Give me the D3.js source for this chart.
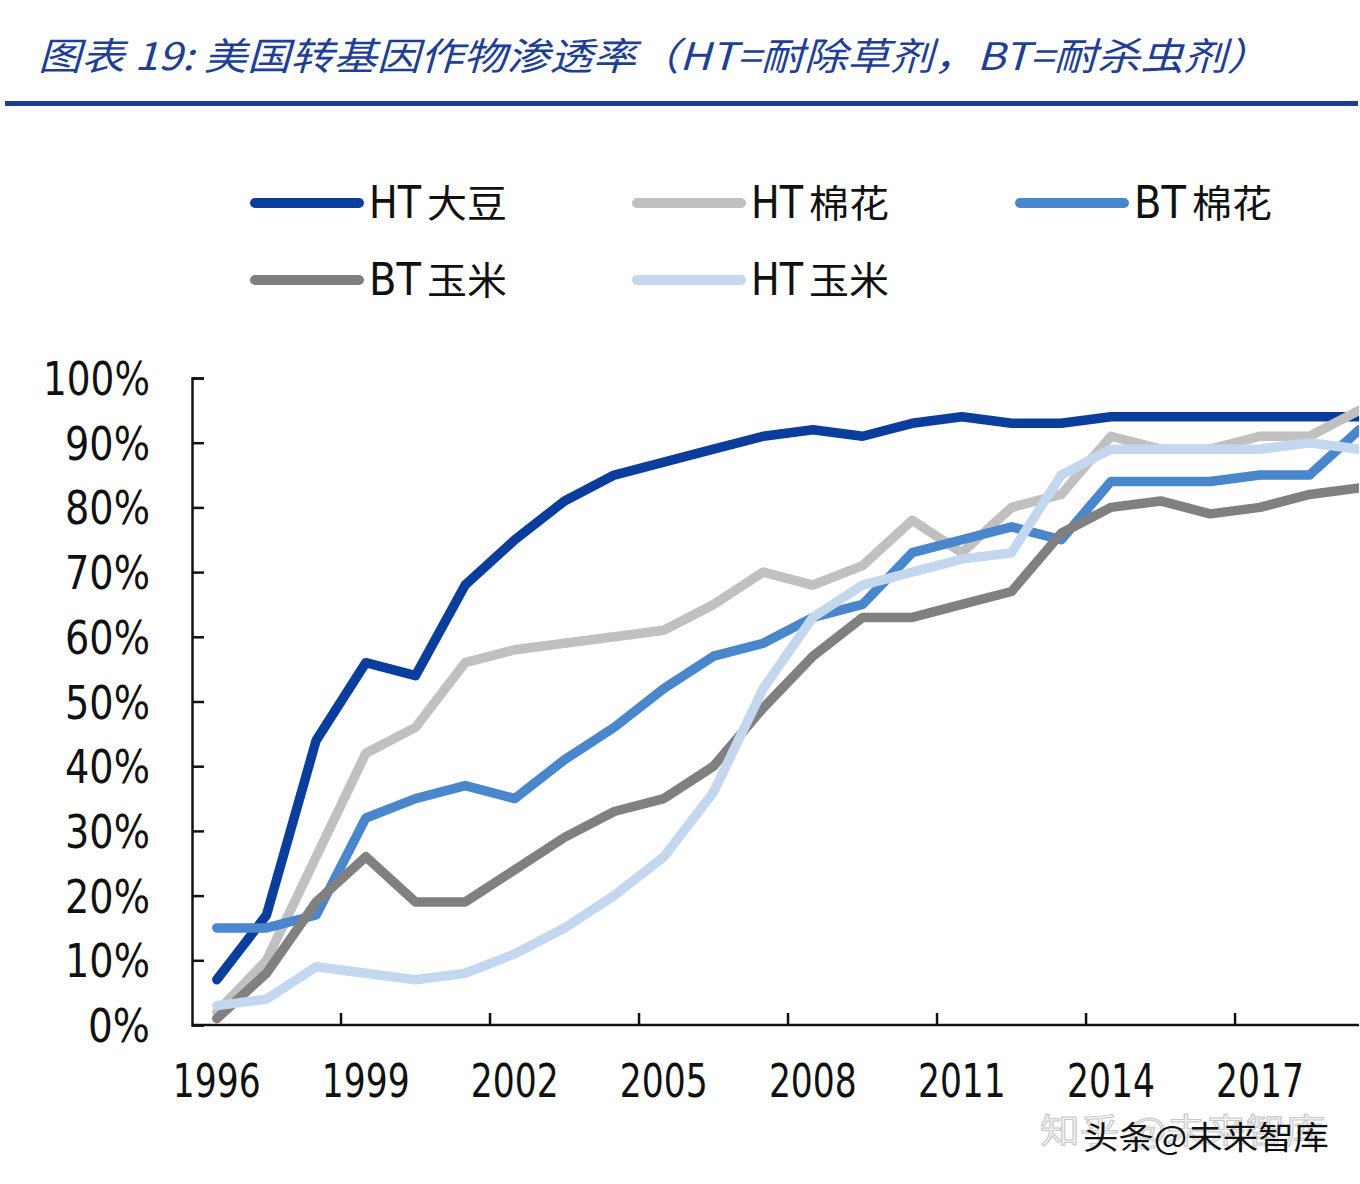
<!DOCTYPE html>
<html><head><meta charset="utf-8">
<script src="https://cdn.jsdelivr.net/npm/d3@7"></script>
<style>
html,body{margin:0;padding:0;background:#fff;}
svg{display:block;}
</style>
</head><body>
<svg id="c" width="1360" height="1184"></svg>
<script>
const years = ["1996","1997","1998","1999","2000","2001","2002","2003","2004","2005","2006","2007","2008","2009","2010","2011","2012","2013","2014","2015","2016","2017","2018","2019"];
const labelYears = ["1996","1999","2002","2005","2008","2011","2014","2017"];
const yTicks = [0,10,20,30,40,50,60,70,80,90,100];
const seriesNames = ["HT大豆","HT棉花","BT棉花","BT玉米","HT玉米"];
const htSoy    = [7,17,44,56,54,68,75,81,85,87,89,91,92,91,93,94,93,93,94,94,94,94,94,94];
const htCotton = [2,10,26,42,46,56,58,59,60,61,65,70,68,71,78,73,80,82,91,89,89,91,91,95];
const btCotton = [15,15,17,32,35,37,35,41,46,52,57,59,63,65,73,75,77,75,84,84,84,85,85,92];
const btCorn   = [1,8,19,26,19,19,24,29,33,35,40,49,57,63,63,65,67,76,80,81,79,80,82,83];
const htCorn   = [3,4,9,8,7,8,11,15,20,26,36,52,63,68,70,72,73,85,89,89,89,89,90,89];
const colors = ["#0b3d9c","#c0c0c0","#4a86cc","#808080","#c3d7ef"];
const seriesValues = [htSoy, htCotton, btCotton, btCorn, htCorn];

const svg = d3.select("#c");
const numFont = "'DejaVu Sans',sans-serif";
const cjkFont = "'Noto Sans CJK SC','Noto Sans',sans-serif";

// squeeze a text horizontally to a target width
function fitWidth(sel, w){
  sel.each(function(){
    const el = d3.select(this);
    const tw = typeof w === "function" ? w(this.textContent) : w;
    el.attr("textLength", tw).attr("lengthAdjust","spacingAndGlyphs");
  });
}

// Title
const title = svg.append("text").attr("x",38).attr("y",70)
  .attr("font-family",cjkFont).attr("font-style","italic").attr("font-size",38)
  .attr("fill","#1f3f95")
  .text("图表 19:  美国转基因作物渗透率（HT=耐除草剂，BT=耐杀虫剂）");
fitWidth(title, 1232);
svg.append("rect").attr("x",5).attr("y",101).attr("width",1353).attr("height",5).attr("fill","#1a3d9a");

// Scales
const bw = 49.67;
const x = d3.scaleBand().domain(years).range([192, 192 + bw*years.length]).padding(0);
const y = d3.scaleLinear().domain([0,100]).range([1025,378]);

svg.append("defs").append("clipPath").attr("id","clip")
  .append("rect").attr("x",0).attr("y",0).attr("width",1359).attr("height",1184);

// Y axis
const yAxis = d3.axisLeft(y).tickValues(yTicks).tickSize(-12).tickPadding(42).tickFormat(d=>d+"%");
const gy = svg.append("g").attr("transform","translate(192,0)").call(yAxis);
gy.select(".domain").attr("stroke","#111").attr("stroke-width",2.5);
gy.selectAll(".tick line").attr("stroke","#111").attr("stroke-width",2.5);
const ytxt = gy.selectAll(".tick text").attr("font-family",numFont).attr("font-size",46)
  .attr("fill","#111").attr("dy","0.36em");
fitWidth(ytxt, s => s.length===4 ? 107 : s.length===3 ? 85 : 62);

// X axis line
const gx = svg.append("g").attr("clip-path","url(#clip)");
gx.append("line").attr("x1",192).attr("x2",1360).attr("y1",y(0)).attr("y2",y(0))
  .attr("stroke","#111").attr("stroke-width",2.5);
gx.selectAll("line.xt").data(labelYears.slice(1))
  .enter().append("line").attr("class","xt")
  .attr("x1",d=>x(d)).attr("x2",d=>x(d))
  .attr("y1",y(0)).attr("y2",y(0)-12)
  .attr("stroke","#111").attr("stroke-width",2.5);
const xtxt = svg.selectAll("text.xl").data(labelYears).enter().append("text").attr("class","xl")
  .attr("x",d=>x(d)+x.bandwidth()/2).attr("y",1097)
  .attr("text-anchor","middle").attr("font-family",numFont).attr("font-size",47).attr("fill","#111")
  .text(d=>d);
fitWidth(xtxt, 88);

// Lines
const line = d3.line().x((d,i)=>x(years[i])+x.bandwidth()/2).y(d=>y(d));
const lg = svg.append("g").attr("clip-path","url(#clip)");
seriesValues.forEach((vals,i)=>{
  lg.append("path").datum(vals).attr("d",line)
    .attr("fill","none").attr("stroke",colors[i]).attr("stroke-width",9.5)
    .attr("stroke-linejoin","round").attr("stroke-linecap","round");
});

// Legend
const legPos = [[255,203],[637,203],[1020,203],[255,280],[637,280]];
seriesNames.forEach((n,i)=>{
  const [lx,ly] = legPos[i];
  svg.append("line").attr("x1",lx).attr("x2",lx+104).attr("y1",ly).attr("y2",ly)
    .attr("stroke",colors[i]).attr("stroke-width",10).attr("stroke-linecap","round");
  const m = n.match(/^([A-Z]+)(.*)$/);
  const t1 = svg.append("text").attr("x",lx+114).attr("y",ly+15)
    .attr("font-family",numFont).attr("font-size",44).attr("fill","#111").text(m[1]);
  fitWidth(t1, 52);
  const t2 = svg.append("text").attr("x",lx+172).attr("y",ly+14)
    .attr("font-family",cjkFont).attr("font-size",38).attr("fill","#111").text(m[2]);
  fitWidth(t2, 80);
});

// Watermark
const w1 = svg.append("text").attr("x",1040).attr("y",1143).attr("font-family",cjkFont).attr("font-size",34)
  .attr("fill","#f4f4f4").attr("stroke","#c8c8c8").attr("stroke-width",1).text("知乎 @未来智库");
fitWidth(w1, 285);
const w2 = svg.append("text").attr("x",1083).attr("y",1149).attr("font-family",cjkFont).attr("font-size",32)
  .attr("fill","#111").text("头条@未来智库");
fitWidth(w2, 246);
</script>
</body></html>
